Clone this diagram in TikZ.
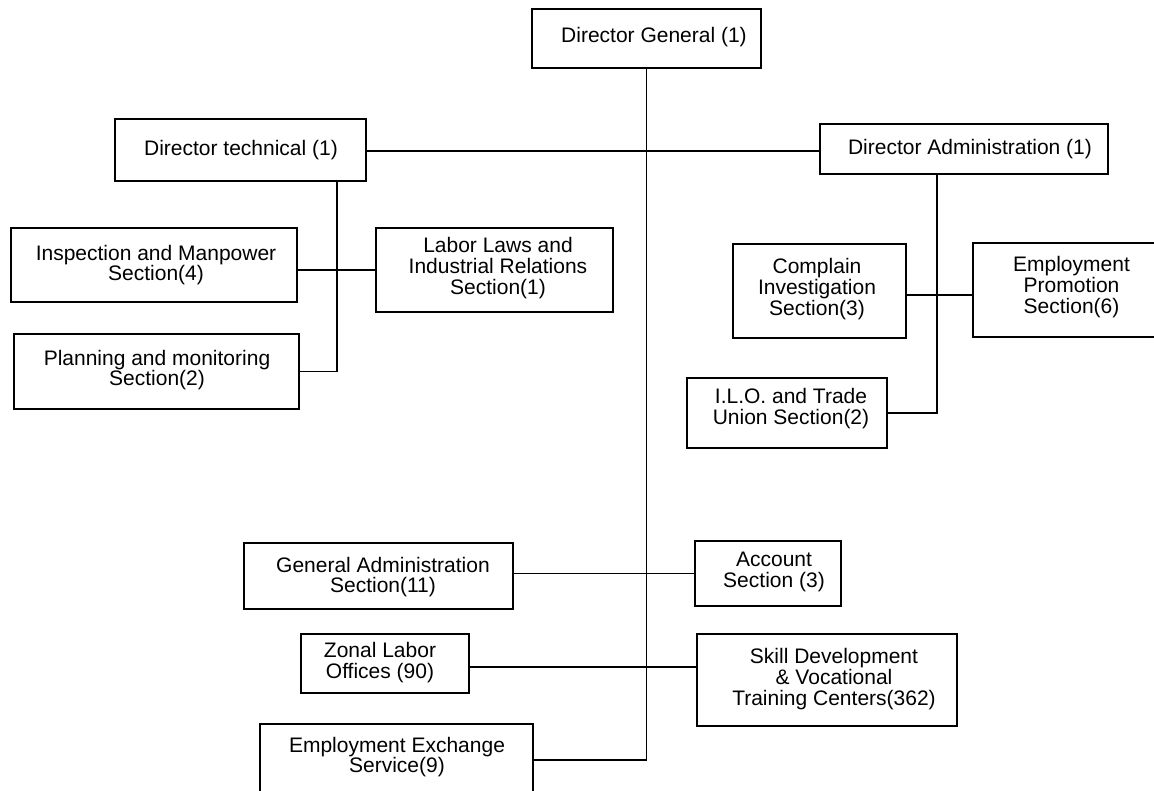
\documentclass[tikz,border=0pt]{standalone}
\usepackage{fontspec}
\setmainfont{Liberation Sans}
\tikzset{
  box/.style={draw, line width=1.2pt, inner sep=0pt, rectangle},
  lbl/.style={align=center, inner sep=0pt, font=\fontsize{21}{20.8}\selectfont},
  conn/.style={line width=1.2pt}
}
\begin{document}
\begin{tikzpicture}[x=1pt, y=-1pt]
\useasboundingbox (0,0) rectangle (1154,791);
\clip (0,0) rectangle (1154,791);
% boxes
\node[box, minimum width=229pt, minimum height=59pt] (dg) at (646.5,38.5) {};
\node[box, minimum width=251pt, minimum height=62pt] (dt) at (240.5,150) {};
\node[box, minimum width=288pt, minimum height=50pt] (da) at (964,149) {};
\node[box, minimum width=286pt, minimum height=74pt] (insp) at (154,265) {};
\node[box, minimum width=237pt, minimum height=84pt] (labor) at (494.5,270) {};
\node[box, minimum width=285pt, minimum height=75pt] (plan) at (156.5,371.5) {};
\node[box, minimum width=173pt, minimum height=94pt] (comp) at (819.5,291) {};
\node[box, minimum width=191pt, minimum height=94pt] (ep) at (1068.5,290) {};
\node[box, minimum width=200pt, minimum height=70pt] (ilo) at (787,413) {};
\node[box, minimum width=269pt, minimum height=66pt] (ga) at (378.5,576) {};
\node[box, minimum width=146pt, minimum height=65pt] (acc) at (768,573.5) {};
\node[box, minimum width=168pt, minimum height=59pt] (zonal) at (385,663.5) {};
\node[box, minimum width=260pt, minimum height=92pt] (skill) at (827,680) {};
\node[box, minimum width=273pt, minimum height=72pt] (ees) at (396.5,760) {};
% labels
\node[lbl] (dgt) at (654,37.5) {Director General (1)};
\node[lbl] (dtt) at (241,150) {Director technical (1)};
\node[lbl] (dat) at (970,149) {Director Administration (1)};
\node[lbl] (inspt) at (156,265) {Inspection and Manpower\\Section(4)};
\node[lbl] (labort) at (498,268) {Labor Laws and\\Industrial Relations\\Section(1)};
\node[lbl] (plant) at (157,370) {Planning and monitoring\\Section(2)};
\node[lbl] (compt) at (817,289) {Complain\\Investigation\\Section(3)};
\node[lbl] (ept) at (1071.5,287) {Employment\\Promotion\\Section(6)};
\node[lbl] (ilot) at (791,408.5) {I.L.O. and Trade\\Union Section(2)};
\node[lbl] (gat) at (383,577) {General Administration\\Section(11)};
\node[lbl] (acct) at (774,572) {Account\\Section (3)};
\node[lbl] (zonalt) at (380,662.5) {Zonal Labor\\Offices (90)};
\node[lbl] (skillt) at (834,679) {Skill Development\\\& Vocational\\Training Centers(362)};
\node[lbl] (eest) at (397,757) {Employment Exchange\\Service(9)};
% connectors
\draw[conn] (dg.south) |- (ees.east);
\draw[conn] ([yshift=-1pt]dt.east) -- ([yshift=-1pt]dt.east -| da.west);
\draw[conn] ([xshift=96.5pt]dt.south) |- (plan.east);
\draw[conn] (labor.west) -- (labor.west -| insp.east);
\draw[conn] ([xshift=-27pt]da.south) |- (ilo.east);
\draw[conn] ([yshift=-4pt]comp.east) -- ([yshift=-4pt]comp.east -| ep.west);
\draw[conn] (acc.west) -- (acc.west -| ga.east);
\draw[conn] ([yshift=-3.5pt]zonal.east) -- ([yshift=-3.5pt]zonal.east -| skill.west);
\end{tikzpicture}
\end{document}
